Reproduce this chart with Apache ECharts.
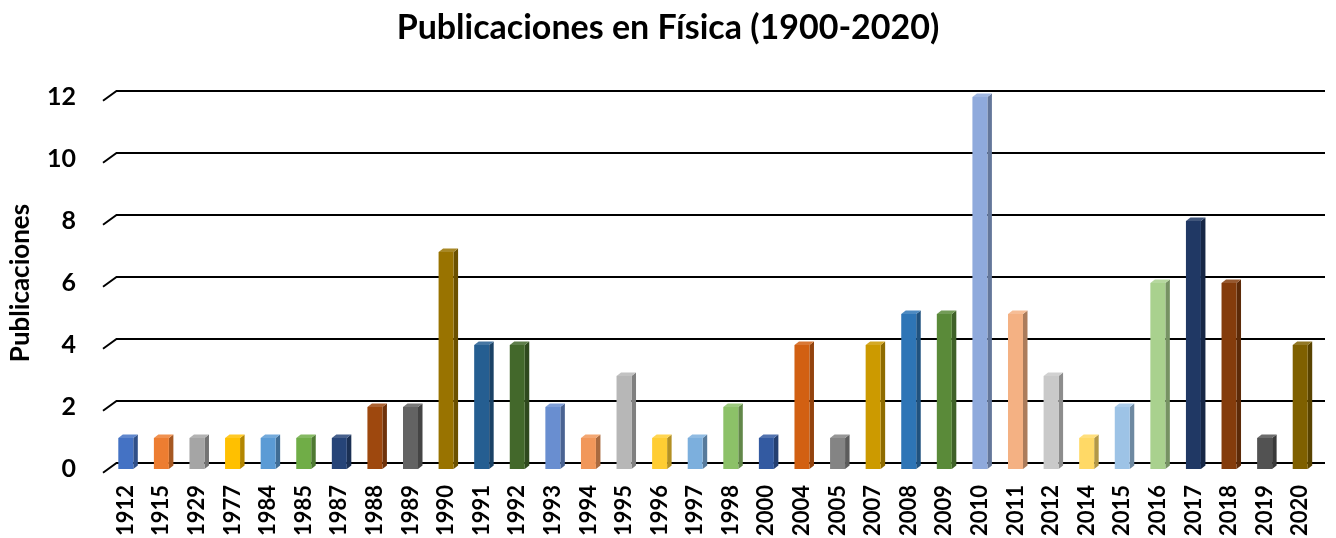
<!DOCTYPE html>
<html>
<head>
<meta charset="utf-8">
<script src="https://cdn.jsdelivr.net/npm/echarts@6/dist/echarts.min.js"></script>
<style>html,body{margin:0;padding:0;background:#fff;}#c{width:1336px;height:538px;}</style>
</head>
<body>
<div id="c"></div>
<script>
const categories = ['1912','1915','1929','1977','1984','1985','1987','1988','1989','1990','1991','1992','1993','1994','1995','1996','1997','1998','2000','2004','2005','2007','2008','2009','2010','2011','2012','2014','2015','2016','2017','2018','2019','2020'];
const publicaciones = [1,1,1,1,1,1,1,2,2,7,4,4,2,1,3,1,1,2,1,4,1,4,5,5,12,5,3,1,2,6,8,6,1,4];
const yTicks = [0,2,4,6,8,10,12];

const palette = ['#4472C4','#ED7D31','#A5A5A5','#FFC000','#5B9BD5','#70AD47','#264478','#9E480E','#636363','#997300','#255E91','#43682B','#698ED0','#F1975A','#B7B7B7','#FFCD33','#7CAFDD','#8CC168','#335AA1','#D26012','#848484','#CC9A00','#2E75B6','#5A8A39','#8FAADC','#F4B183','#C9C9C9','#FFD966','#9DC3E6','#A9D18E','#203864','#843C0C','#525252','#7F6000'];

function shade(hex, f) {
  const n = parseInt(hex.slice(1), 16);
  let r = (n >> 16) & 255, g = (n >> 8) & 255, b = n & 255;
  if (f < 0) { r = r * (1 + f); g = g * (1 + f); b = b * (1 + f); }
  else { r = r + (255 - r) * f; g = g + (255 - g) * f; b = b + (255 - b) * f; }
  return 'rgb(' + Math.round(r) + ',' + Math.round(g) + ',' + Math.round(b) + ')';
}

const FONT = 'Lato, "Open Sans", sans-serif';
const chart = echarts.init(document.getElementById('c'));

const barData = publicaciones.map((v, i) => [i, v]);
const gridData = yTicks.map(v => [0, v]);

chart.setOption({
  backgroundColor: '#fff',
  animation: false,
  title: {
    text: 'Publicaciones en Física (1900-2020)',
    left: 'center', top: 6,
    textStyle: { fontFamily: FONT, fontWeight: 'bold', fontSize: 34, color: '#000' }
  },
  grid: { left: 108, right: 18, top: 97, bottom: 69, outerBoundsMode: 'none', containLabel: false },
  xAxis: {
    type: 'category',
    data: categories,
    axisLine: { show: false },
    axisTick: { show: false },
    axisLabel: { rotate: 90, margin: 16, fontFamily: FONT, fontWeight: 'bold', fontSize: 22, color: '#000', interval: 0 }
  },
  yAxis: {
    type: 'value', min: 0, max: 12, interval: 2,
    name: 'Publicaciones', nameLocation: 'middle', nameGap: 74,
    nameTextStyle: { fontFamily: FONT, fontWeight: 'bold', fontSize: 26, color: '#000' },
    axisLine: { show: false }, axisTick: { show: false },
    splitLine: { show: false },
    axisLabel: { margin: 32, fontFamily: FONT, fontWeight: 'bold', fontSize: 25, color: '#000', padding: [8, 0, 0, 0] }
  },
  series: [
    {
      type: 'custom',
      z: 1,
      silent: true,
      clip: false,
      data: gridData,
      renderItem: function (params, api) {
        const cs = params.coordSys;
        const y = api.coord([0, api.value(1)])[1];
        return {
          type: 'polyline',
          shape: { points: [[cs.x - 5, y + 3.7], [cs.x + 8.5, y - 6], [cs.x + cs.width + 7, y - 6]] },
          style: { stroke: '#000', lineWidth: 2, fill: null }
        };
      }
    },
    {
      type: 'custom',
      z: 5,
      clip: false,
      data: barData,
      renderItem: function (params, api) {
        const idx = api.value(0);
        const top = api.coord([idx, api.value(1)]);
        const base = api.coord([idx, 0]);
        const cx = top[0], ty = top[1], by = base[1];
        const hw = 7.5, dx = 4.5, dy = 3.5;
        const col = palette[params.dataIndex % palette.length];
        return {
          type: 'group',
          children: [
            { type: 'polygon', shape: { points: [[cx + hw, ty], [cx + hw + dx, ty - dy], [cx + hw + dx, by - dy], [cx + hw, by]] },
              style: { fill: shade(col, -0.3) } },
            { type: 'polygon', shape: { points: [[cx - hw, ty], [cx + hw, ty], [cx + hw + dx, ty - dy], [cx - hw + dx, ty - dy]] },
              style: { fill: shade(col, 0.15) } },
            { type: 'rect', shape: { x: cx - hw, y: ty, width: hw * 2, height: by - ty },
              style: { fill: col } }
          ]
        };
      }
    }
  ]
});
</script>
</body>
</html>
